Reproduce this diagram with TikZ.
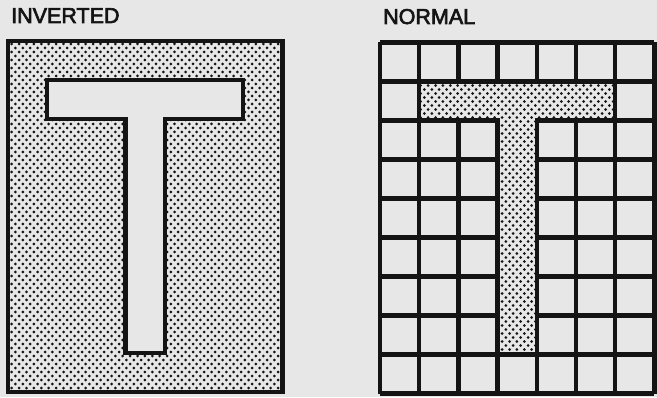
\documentclass[tikz,border=0pt]{standalone}
\usepackage{fontspec}
\setmainfont{Liberation Sans}[FakeBold=3]
\definecolor{paper}{RGB}{231,231,231}
\definecolor{ink}{RGB}{20,20,20}
\newcommand\teeshape[1]{\path[#1] (1,8) -- (6,8) -- (6,7) -- (4,7) -- (4,1) -- (3,1) -- (3,7) -- (1,7) -- cycle;}
\newcommand\dotfield{%
  \begin{scope}[x=1pt, y=1pt]
  \foreach \r in {0,...,89}
    \foreach \c in {0,...,38}
      \fill[ink] ({\c*7.4 + mod(\r,2)*3.7}, {\r*4}) circle (1.5pt);
  \end{scope}}
\begin{document}
\begin{tikzpicture}[x=1pt,y=1pt]
  \fill[paper] (0,0) rectangle (657,397);
  \useasboundingbox (0,0) rectangle (657,397);
  \def\lw{4.4pt}
  \node[anchor=base west, inner sep=0pt, text=ink, font=\fontsize{21.5}{25}\selectfont] (inv) at (11,374) {INVERTED};
  \node[anchor=base west, inner sep=0pt, text=ink, font=\fontsize{21.5}{25}\selectfont] (norm) at (383,373) {NORMAL};
  % inverted
  \begin{scope}[shift={(8,5)}, x=39.2pt, y=39pt]
    \begin{scope}
      \clip (0,0) rectangle (7,9);
      \dotfield
    \end{scope}
    \teeshape{fill=paper}
    \draw[ink, line width=\lw] (0,0) rectangle (7,9);
    \teeshape{draw=ink, line width=\lw}
  \end{scope}
  % normal
  \begin{scope}[shift={(380,3.5)}, x=39.2pt, y=39pt]
    \foreach \i in {0,...,7}
      \draw[ink, line width=\lw] (\i,0) -- (\i,9);
    \foreach \j in {0,...,9}
      \draw[ink, line width=\lw] (0,\j) -- (7,\j);
    \teeshape{fill=paper}
    \begin{scope}
      \teeshape{clip}
      \dotfield
    \end{scope}
    \teeshape{draw=ink, line width=\lw}
  \end{scope}
\end{tikzpicture}
\end{document}
